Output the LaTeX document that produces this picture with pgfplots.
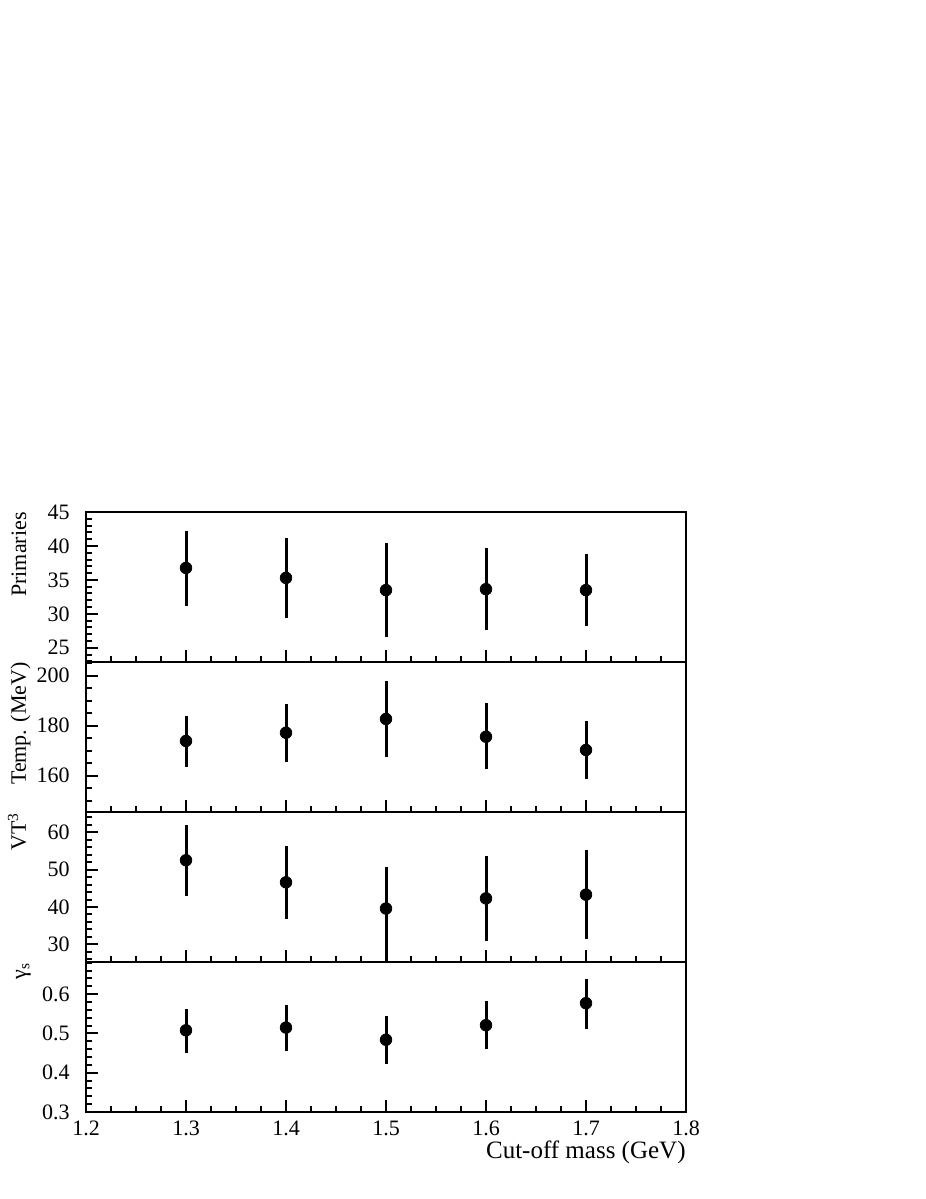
\documentclass[border=0pt]{standalone}
\usepackage{fontspec}
\setmainfont{Liberation Serif}
\usepackage{pgfplots}
\usepackage{pgfplotstable}
\pgfplotsset{compat=1.18}

\pgfplotstableread{
x y ep em
1.3 36.76 5.49 5.58
1.4 35.29 5.84 5.88
1.5 33.49 6.90 6.97
1.6 33.63 6.03 6.03
1.7 33.49 5.29 5.30
}\tabA
\pgfplotstableread{
x y ep em
1.3 173.9 10.0 10.3
1.4 177.2 11.6 11.7
1.5 182.7 15.3 15.4
1.6 175.6 13.4 13.0
1.7 170.3 11.7 11.6
}\tabB
\pgfplotstableread{
x y ep em
1.3 52.5 9.3 9.5
1.4 46.6 9.7 9.8
1.5 39.6 11.0 15.0
1.6 42.3 11.4 11.4
1.7 43.3 11.9 11.8
}\tabC
\pgfplotstableread{
x y ep em
1.3 0.508 0.055 0.057
1.4 0.515 0.058 0.060
1.5 0.484 0.061 0.063
1.6 0.521 0.061 0.061
1.7 0.577 0.062 0.065
}\tabD

\pgfplotsset{
  panel/.style={
    scale only axis, width=300pt, height=75pt, anchor=south west,
    xmin=1.2, xmax=1.8,
    xtick={1.2,1.3,...,1.8},
    minor xtick={1.225,1.25,1.275,1.325,1.35,1.375,1.425,1.45,1.475,1.525,1.55,1.575,1.625,1.65,1.675,1.725,1.75,1.775},
    tick align=inside, xtick pos=left, ytick pos=left,
    major tick length=6pt, minor tick length=3pt,
    axis line style={line width=1.3pt},
    every tick/.style={line width=1pt, black},
    tick label style={font=\fontsize{11}{13}\selectfont},
    /pgf/number format/assume math mode=true,
    yticklabel style={inner sep=0pt, xshift=-8pt},
    xticklabel style={inner sep=0pt, anchor=base, yshift=-11.5pt,
      /pgf/number format/fixed, /pgf/number format/precision=1, /pgf/number format/fixed zerofill},
    every axis y label/.style={at={(rel axis cs:0,1)}, rotate=90, anchor=base east, inner sep=0pt,
      yshift=30pt, font=\fontsize{11}{13}\selectfont},
    every axis x label/.style={at={(rel axis cs:1,0)}, anchor=base east, inner sep=0pt,
      yshift=-23pt, font=\fontsize{12.5}{14}\selectfont},
  },
  dat/.style={only marks, black, mark=*, mark size=2.9pt, mark options={fill=black},
    error bars/.cd, y dir=both, y explicit, error mark=none,
    error bar style={line width=1.5pt, black}},
}

\begin{document}
\begin{tikzpicture}
\path[use as bounding box] (0,0) rectangle (463pt,599.5pt);

\begin{axis}[panel, at={(43pt,268.5pt)},
  ymin=22.9, ymax=45, ytick={25,30,...,45},
  minor ytick={23,24,26,27,28,29,31,32,33,34,36,37,38,39,41,42,43,44},
  xticklabels={}, ylabel={Primaries}]
\addplot[dat] table[x=x, y=y, y error plus=ep, y error minus=em] {\tabA};
\end{axis}

\begin{axis}[panel, at={(43pt,193.5pt)},
  ymin=145.5, ymax=205.5, ytick={160,180,200},
  minor ytick={150,155,165,170,175,185,190,195,205},
  xticklabels={}, ylabel={Temp. (MeV)}]
\addplot[dat] table[x=x, y=y, y error plus=ep, y error minus=em] {\tabB};
\end{axis}

\begin{axis}[panel, at={(43pt,118.5pt)},
  ymin=25.3, ymax=65.4, ytick={30,40,50,60},
  minor ytick={26,28,32,34,36,38,42,44,46,48,52,54,56,58,62,64},
  xticklabels={}, ylabel={VT\textsuperscript{3}}]
\addplot[dat] table[x=x, y=y, y error plus=ep, y error minus=em] {\tabC};
\end{axis}

\begin{axis}[panel, at={(43pt,43.5pt)},
  ymin=0.3, ymax=0.682, ytick={0.3,0.4,0.5,0.6},
  minor ytick={0.32,0.34,0.36,0.38,0.42,0.44,0.46,0.48,0.52,0.54,0.56,0.58,0.62,0.64,0.66,0.68},
  ylabel={γ\textsubscript{s}}, xlabel={Cut-off mass (GeV)}]
\addplot[dat] table[x=x, y=y, y error plus=ep, y error minus=em] {\tabD};
\end{axis}
\end{tikzpicture}
\end{document}
